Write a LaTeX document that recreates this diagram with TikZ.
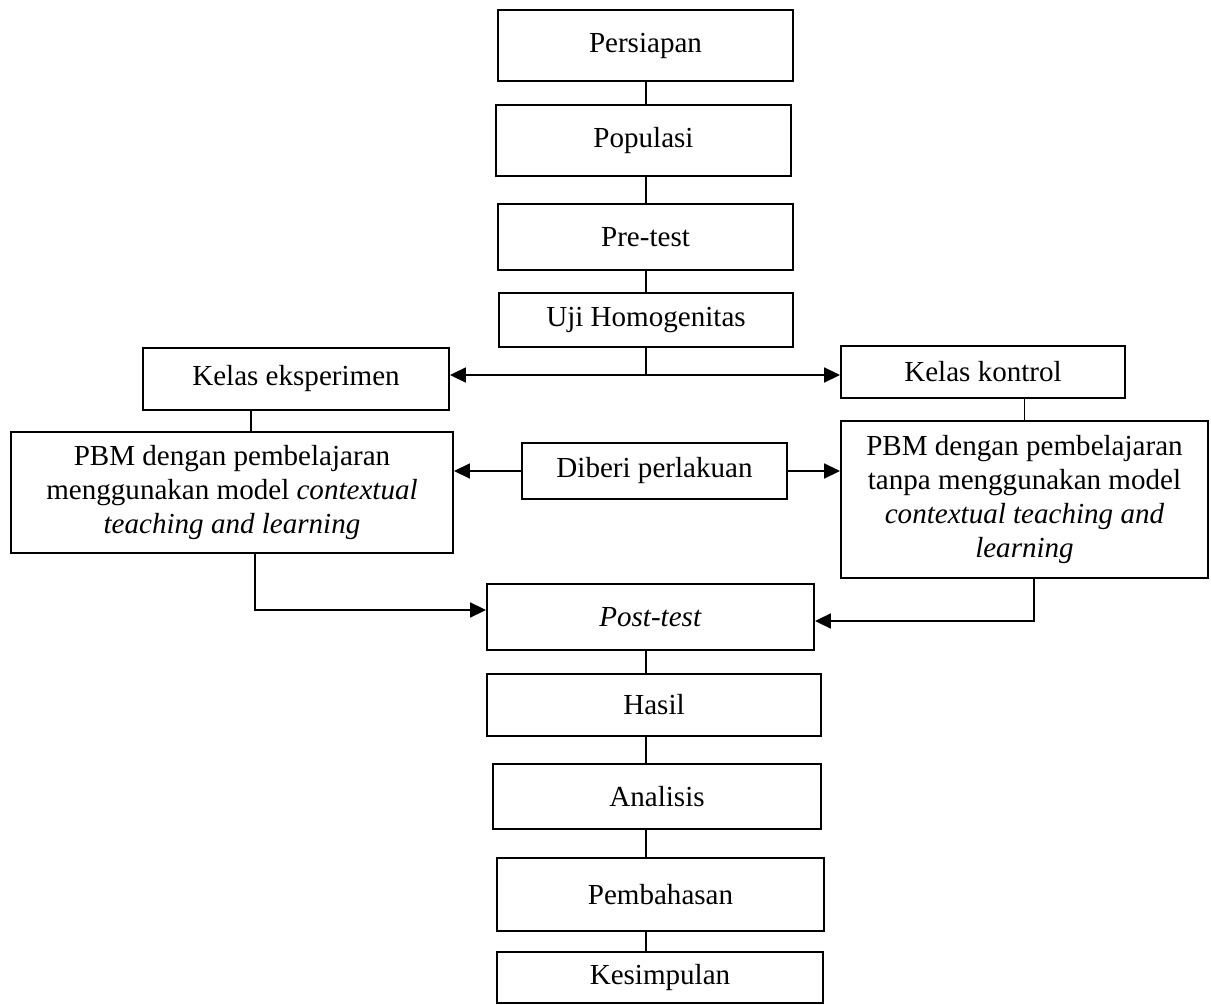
\documentclass[tikz,border=0pt]{standalone}
\usepackage{fontspec}
\setmainfont{Liberation Serif}
\usetikzlibrary{arrows.meta}

\tikzset{
  kotak/.style 2 args={draw, line width=1.3pt, align=center, inner sep=2pt,
    minimum width=#1*0.75pt, minimum height=#2*0.75pt,
    font=\fontsize{21.8}{25.4}\selectfont},
  garis/.style={line width=0.9pt},
  panah/.style={line width=2pt, -{Triangle[length=12pt,width=11pt]}},
}

\begin{document}
\begin{tikzpicture}[x=0.75pt,y=-0.75pt]
	\useasboundingbox (0,0) rectangle (1211,1005);
	% kolom tengah
	\node[kotak={295}{71}] (persiapan) at (645.5,45.5) {Persiapan};
	\node[kotak={295}{71}] (populasi) at (643.5,140.5) {Populasi};
	\node[kotak={295}{66}] (pretest) at (645.5,237) {Pre-test};
	\node[kotak={294}{54}] (uji) at (646,320) {Uji Homogenitas};
	% dua kelas
	\node[kotak={306}{62}] (eksperimen) at (296,379) {Kelas eksperimen};
	\node[kotak={284}{52}] (kontrol) at (983,372) {Kelas kontrol};
	\node[kotak={442}{121}] (pbmkiri) at (232,492.5) {PBM dengan pembelajaran\\ menggunakan model \textit{contextual}\\ \textit{teaching and learning}};
	\node[kotak={265}{56}] (diberi) at (654.5,471) {Diberi perlakuan};
	\node[kotak={367}{157}] (pbmkanan) at (1024.5,499.5) {PBM dengan pembelajaran\\ tanpa menggunakan model\\ \textit{contextual teaching and}\\ \textit{learning}};
	% kolom bawah
	\node[kotak={327}{66}] (posttest) at (650.5,617) {\textit{Post-test}};
	\node[kotak={334}{62}] (hasil) at (654,705) {Hasil};
	\node[kotak={328}{65}] (analisis) at (657,796.5) {Analisis};
	\node[kotak={327}{73}] (pembahasan) at (660.5,894.5) {Pembahasan};
	\node[kotak={326}{51}] (kesimpulan) at (660,977.5) {Kesimpulan};
	% titik bantu
	\coordinate (tengah) at (646,0);
	\coordinate (cabang) at (646,375);
	\coordinate (kiri) at (251,0);
	\coordinate (bkiri) at (255,610);
	\coordinate (bkanan) at (1034,621);
	% garis
	\draw[garis] (tengah |- persiapan.south) -- (tengah |- populasi.north);
	\draw[garis] (tengah |- populasi.south) -- (tengah |- pretest.north);
	\draw[garis] (tengah |- pretest.south) -- (tengah |- uji.north);
	\draw[garis] (tengah |- uji.south) -- (cabang);
	\draw[panah] (cabang) -- (cabang -| eksperimen.east);
	\draw[panah] (cabang) -- (cabang -| kontrol.west);
	\draw[garis] (kiri |- eksperimen.south) -- (kiri |- pbmkiri.north);
	\draw[garis] (pbmkanan.north |- kontrol.south) -- (pbmkanan.north);
	\draw[panah] (diberi.west) -- (diberi.west -| pbmkiri.east);
	\draw[panah] (diberi.east) -- (diberi.east -| pbmkanan.west);
	\draw[panah] (bkiri |- pbmkiri.south) -- (bkiri) -- (bkiri -| posttest.west);
	\draw[panah] (bkanan |- pbmkanan.south) -- (bkanan) -- (bkanan -| posttest.east);
	\draw[garis] (tengah |- posttest.south) -- (tengah |- hasil.north);
	\draw[garis] (tengah |- hasil.south) -- (tengah |- analisis.north);
	\draw[garis] (tengah |- analisis.south) -- (tengah |- pembahasan.north);
	\draw[garis] (tengah |- pembahasan.south) -- (tengah |- kesimpulan.north);
\end{tikzpicture}
\end{document}
